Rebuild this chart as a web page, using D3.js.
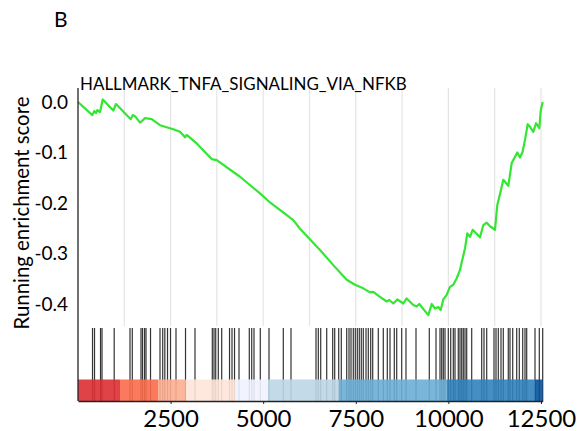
<!DOCTYPE html>
<html>
<head>
<meta charset="utf-8">
<script src="https://cdn.jsdelivr.net/npm/d3@7"></script>
<style>
html,body{margin:0;padding:0;background:#fff;}
svg{display:block;}
text{font-family:Lato,"Open Sans",sans-serif;fill:#000;}
</style>
</head>
<body>
<svg id="chart" width="582" height="431"></svg>
<script>
// ---- data ----
const geneSetName = "HALLMARK_TNFA_SIGNALING_VIA_NFKB";
const panelLabel = "B";
const yAxisTitle = "Running enrichment score";
const xTickValues = [2500, 5000, 7500, 10000, 12500];
const yTickValues = [0.0, -0.1, -0.2, -0.3, -0.4];
const listSize = 12547;

// running enrichment score: rank positions and scores
const esRank = [0,386,440,486,521,594,667,953,1026,1423,1477,1539,1674,1809,1990,2214,2573,2754,2889,2935,3205,3610,3745,4374,4914,5184,5813,5994,6534,6893,7255,7479,7703,7883,7973,8153,8334,8405,8513,8621,8783,8874,9053,9144,9215,9458,9550,9639,9728,9793,9863,9955,10043,10133,10225,10313,10359,10449,10511,10584,10656,10853,10943,11035,11124,11259,11321,11375,11440,11483,11529,11618,11710,11753,11861,11934,12007,12069,12142,12204,12293,12366,12455,12492,12547];
const esScore = [0,-0.026,-0.018,-0.022,-0.016,-0.020,0.005,-0.017,-0.004,-0.034,-0.026,-0.028,-0.041,-0.032,-0.034,-0.046,-0.054,-0.059,-0.070,-0.065,-0.082,-0.113,-0.115,-0.148,-0.181,-0.199,-0.234,-0.251,-0.293,-0.323,-0.352,-0.362,-0.369,-0.377,-0.376,-0.386,-0.395,-0.392,-0.399,-0.391,-0.399,-0.389,-0.402,-0.405,-0.400,-0.422,-0.400,-0.409,-0.406,-0.412,-0.391,-0.382,-0.366,-0.362,-0.349,-0.333,-0.318,-0.290,-0.260,-0.267,-0.253,-0.268,-0.244,-0.239,-0.246,-0.253,-0.204,-0.188,-0.168,-0.154,-0.158,-0.166,-0.121,-0.115,-0.100,-0.110,-0.098,-0.075,-0.044,-0.049,-0.059,-0.042,-0.052,-0.018,0.0];

// ranks of gene-set members (hit lines)
const hitRanks = [392,446,608,648,977,1404,1466,1701,1742,1796,1836,1958,2214,2287,2344,2417,2498,2646,2903,3159,3626,3672,3718,3788,3880,4091,4158,4226,4347,4625,4690,4752,4922,5157,5543,5751,6426,6488,6553,6715,6877,6931,7039,7109,7255,7317,7371,7433,7487,7541,7595,7649,7703,7776,7838,7903,7957,8108,8243,8351,8424,8540,8605,8740,8856,9126,9485,9666,9774,9820,9863,9909,9998,10063,10133,10179,10268,10314,10360,10403,10449,10495,10630,10900,10962,11035,11232,11286,11348,11421,11483,11618,11664,11737,11845,11915,12007,12069,12115,12339,12455,12547];

// ranked-list colour bar segments
const barStarts = [0,1134,2160,2916,4239,5130,7047,9963,12339];
const barEnds   = [1134,2160,2916,4239,5130,7047,9963,12339,12547];
const barColors = ["#DC2E33","#FB6A4A","#FCAE91","#FEE5D9","#EFF3FF","#BDD7E7","#6BAED6","#3182BD","#08519C"];

// ---- layout ----
const svg = d3.select("#chart");
const left = 78, right = 542.7;
const mainTop = 88, mainBottom = 326;
const hitTop = 328, barTop = 379.5, bottom = 401;

const x = d3.scaleLinear().domain([0, listSize]).range([left, right]);
const y = d3.scaleLinear().domain([-0.4, 0]).range([304, 102]);

// vertical grid lines in main panel
const gridVals = d3.range(1250, 12501, 1250);
svg.append("g").selectAll("line").data(gridVals).join("line")
  .attr("x1", d => x(d)).attr("x2", d => x(d))
  .attr("y1", mainTop).attr("y2", mainBottom)
  .attr("stroke", "#e4e4e4").attr("stroke-width", 1.2);

// hit lines
svg.append("g").selectAll("rect").data(hitRanks).join("rect")
  .attr("x", d => x(d) - 0.6).attr("width", 1.2)
  .attr("y", hitTop).attr("height", bottom - hitTop)
  .attr("fill", "#111").attr("fill-opacity", 0.85);

// colour bar
const segs = barStarts.map((s, i) => ({s, e: barEnds[i], c: barColors[i]}));
svg.append("g").selectAll("rect").data(segs).join("rect")
  .attr("x", d => x(d.s)).attr("width", d => x(d.e) - x(d.s))
  .attr("y", barTop).attr("height", bottom - barTop)
  .attr("fill", d => d.c).attr("fill-opacity", 0.9);

// running ES curve
const pts = esRank.map((r, i) => [r, esScore[i]]);
svg.append("path").datum(pts)
  .attr("fill", "none").attr("stroke", "#33e633").attr("stroke-width", 2.2)
  .attr("stroke-linejoin", "round")
  .attr("d", d3.line().x(d => x(d[0])).y(d => y(d[1])));

// y axis
const fmt = v => d3.format(".1f")(v).replace("\u2212", "-");
const yAx = svg.append("g").attr("transform", `translate(${left},0)`)
  .call(d3.axisLeft(y).tickValues(yTickValues).tickFormat(fmt).tickSize(0).tickPadding(10));
yAx.select(".domain").remove();
yAx.selectAll("text").style("font-size", "19px").style("font-family", "Lato, sans-serif");

// left spine full height
svg.append("line").attr("x1", left).attr("x2", left).attr("y1", mainTop).attr("y2", bottom)
  .attr("stroke", "#222").attr("stroke-width", 1.3);

// x axis
const xAx = svg.append("g").attr("transform", `translate(0,${bottom})`)
  .call(d3.axisBottom(x).tickValues(xTickValues).tickFormat(d3.format("d")).tickSize(3).tickPadding(6).tickSizeOuter(0));
xAx.select(".domain").attr("stroke", "#222").attr("stroke-width", 1.3);
xAx.selectAll(".tick line").attr("stroke", "#222");
xAx.selectAll("text").style("font-size", "24px").style("font-family", "Lato, sans-serif");

// titles (font size fitted to the reference text widths)
function fitText(sel, width, base) {
  sel.style("font-size", base + "px");
  const w = sel.node().getComputedTextLength();
  if (w > 0) sel.style("font-size", (base * width / w).toFixed(2) + "px");
  return sel;
}
fitText(svg.append("text").attr("x", 80).attr("y", 90).text(geneSetName), 327, 19);
svg.append("text").attr("x", 54).attr("y", 27).style("font-size", "21px").text(panelLabel);
fitText(svg.append("text").attr("transform", "translate(29,213) rotate(-90)")
  .attr("text-anchor", "middle").text(yAxisTitle), 233, 19);
</script>
</body>
</html>
